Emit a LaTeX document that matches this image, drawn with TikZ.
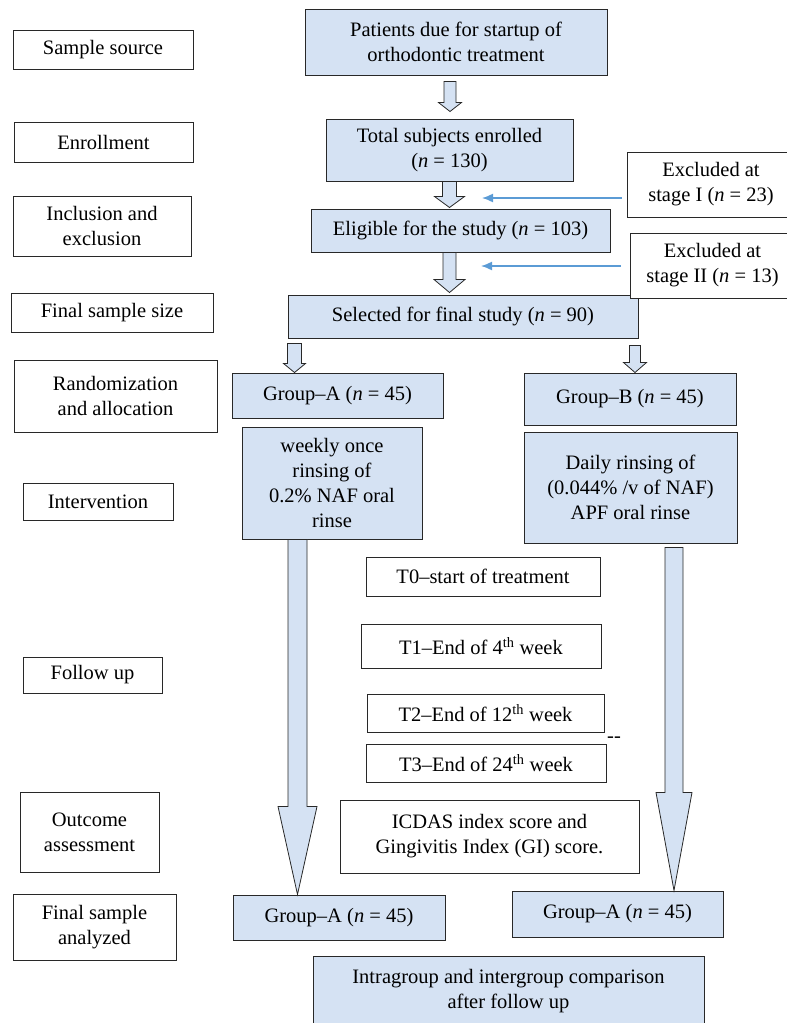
\documentclass[tikz,border=0pt]{standalone}
\usepackage{fontspec}
\setmainfont{Liberation Serif}
\usepackage{xcolor}
\definecolor{boxblue}{RGB}{213,226,243}
\definecolor{linkblue}{RGB}{91,155,213}
\definecolor{edgegray}{RGB}{40,40,40}
\usetikzlibrary{arrows.meta,calc}

\newcommand{\blockarr}[5]{%
  \draw[blockarrow] let \p1=#1, \p2=#2 in
    (\x1-#3pt,\y1) -- (\x1+#3pt,\y1) -- (\x1+#3pt,\y2+#5pt) -- (\x1+#4pt,\y2+#5pt)
    -- (\x1,\y2) -- (\x1-#4pt,\y2+#5pt) -- (\x1-#3pt,\y2+#5pt) -- cycle;}

\begin{document}
\begin{tikzpicture}[x=1pt,y=-1pt,>={Latex[length=11pt,width=9pt]},font=\fontsize{20.5}{25}\selectfont]
  \tikzstyle{stagebox}=[rectangle,draw=edgegray,line width=1pt,fill=white,align=center,inner sep=0pt]
  \tikzstyle{flowbox}=[stagebox,fill=boxblue]
  \tikzstyle{blockarrow}=[draw=edgegray,line width=0.8pt,fill=boxblue]
  \tikzstyle{exclink}=[->,draw=linkblue,line width=1.5pt]

  \useasboundingbox (0,0) rectangle (787,1023);

  \node[stagebox,minimum width=180pt,minimum height=39pt] (src) at (103,49.5) {Sample source};
  \node[stagebox,minimum width=179pt,minimum height=40pt] (enr) at (103.5,142) {Enrollment};
  \node[stagebox,minimum width=178pt,minimum height=60pt] (incl) at (102,226) {Inclusion and\\exclusion};
  \node[stagebox,minimum width=202pt,minimum height=39pt] (fss) at (112,312.5) {Final sample size};
  \node[stagebox,minimum width=203pt,minimum height=72pt] (rand) at (115.5,396) {Randomization\\and allocation};
  \node[stagebox,minimum width=150pt,minimum height=37pt] (intv) at (98,501.5) {Intervention};
  \node[stagebox,minimum width=139pt,minimum height=36pt] (fol) at (92.5,675) {Follow up};
  \node[stagebox,minimum width=139pt,minimum height=80pt] (outc) at (89.5,832) {Outcome\\assessment};
  \node[stagebox,minimum width=163pt,minimum height=66pt] (fsa) at (94.5,927) {Final sample\\analyzed};

  \node[flowbox,minimum width=302pt,minimum height=66pt] (pat) at (456,42) {Patients due for startup of\\orthodontic treatment};
  \node[flowbox,minimum width=247pt,minimum height=62pt] (tot) at (449.5,150) {Total subjects enrolled\\(\textit{n} = 130)};
  \node[flowbox,minimum width=299pt,minimum height=43pt] (eli) at (460.5,230.5) {Eligible for the study (\textit{n} = 103)};
  \node[flowbox,minimum width=350pt,minimum height=43pt] (sel) at (463,316.5) {Selected for final study (\textit{n} = 90)};
  \node[stagebox,minimum width=168pt,minimum height=65pt] (exa) at (711,184.5) {Excluded at\\stage I (\textit{n} = 23)};
  \node[stagebox,minimum width=165pt,minimum height=65pt] (exb) at (712.5,265.5) {Excluded at\\stage II (\textit{n} = 13)};

  \node[flowbox,minimum width=211pt,minimum height=45pt] (gra) at (337.5,395.5) {Group--A (\textit{n} = 45)};
  \node[flowbox,minimum width=212pt,minimum height=52pt] (grb) at (630,399) {Group--B (\textit{n} = 45)};
  \node[flowbox,minimum width=180pt,minimum height=112pt] (wkly) at (332,483) {weekly once\\rinsing of\\0.2\% NAF oral\\rinse};
  \node[flowbox,minimum width=213pt,minimum height=111pt] (daily) at (630.5,487.5) {Daily rinsing of\\(0.044\% /v of NAF)\\APF oral rinse};

  \node[stagebox,minimum width=234pt,minimum height=39pt] (tzero) at (483,576.5) {T0--start of treatment};
  \node[stagebox,minimum width=240pt,minimum height=44pt] (tone) at (481,646) {T1--End of 4\textsuperscript{th} week};
  \node[stagebox,minimum width=237pt,minimum height=38pt] (ttwo) at (485.5,713) {T2--End of 12\textsuperscript{th} week};
  \node[stagebox,minimum width=240pt,minimum height=38pt] (tthree) at (486,763) {T3--End of 24\textsuperscript{th} week};
  \node[inner sep=0pt] (dash) at (614,740) {-{}-};
  \node[stagebox,minimum width=299pt,minimum height=73pt] (icdas) at (489.5,836.5) {ICDAS index score and\\Gingivitis Index (GI) score.};

  \node[flowbox,minimum width=212pt,minimum height=45pt] (fina) at (339,917.5) {Group--A (\textit{n} = 45)};
  \node[flowbox,minimum width=211pt,minimum height=46pt] (finb) at (617.5,914) {Group--A (\textit{n} = 45)};
  \node[flowbox,minimum width=391pt,minimum height=70pt] (cmp) at (508.5,991) {Intragroup and intergroup comparison\\after follow up};

  \blockarr{([xshift=-6pt,yshift=-6pt]pat.south)}{([yshift=7pt]tot.north)}{6}{11.5}{9}
  \blockarr{(tot.south)}{([yshift=1pt]eli.north)}{7}{15}{11}
  \blockarr{([xshift=-11pt]eli.south)}{([yshift=2pt]sel.north)}{6.5}{15.5}{13}
  \blockarr{([xshift=7pt,yshift=-5pt]sel.south west)}{(gra.north)}{7}{11}{9}
  \blockarr{([xshift=-3.5pt,yshift=-7pt]sel.south east)}{(grb.north)}{5.5}{11.5}{10}
  \blockarr{([xshift=-34.5pt]wkly.south)}{(fina.north)}{9.5}{19.5}{88}
  \blockarr{([xshift=43.5pt,yshift=-4pt]daily.south)}{(finb.north)}{9}{18}{98}

  \coordinate (exatip) at (482,198);
  \coordinate (exbtip) at (481,266);
  \draw[exclink,shorten <=5pt] (exatip -| exa.west) -- (exatip);
  \draw[exclink,shorten <=9pt] (exbtip -| exb.west) -- (exbtip);
\end{tikzpicture}
\end{document}
